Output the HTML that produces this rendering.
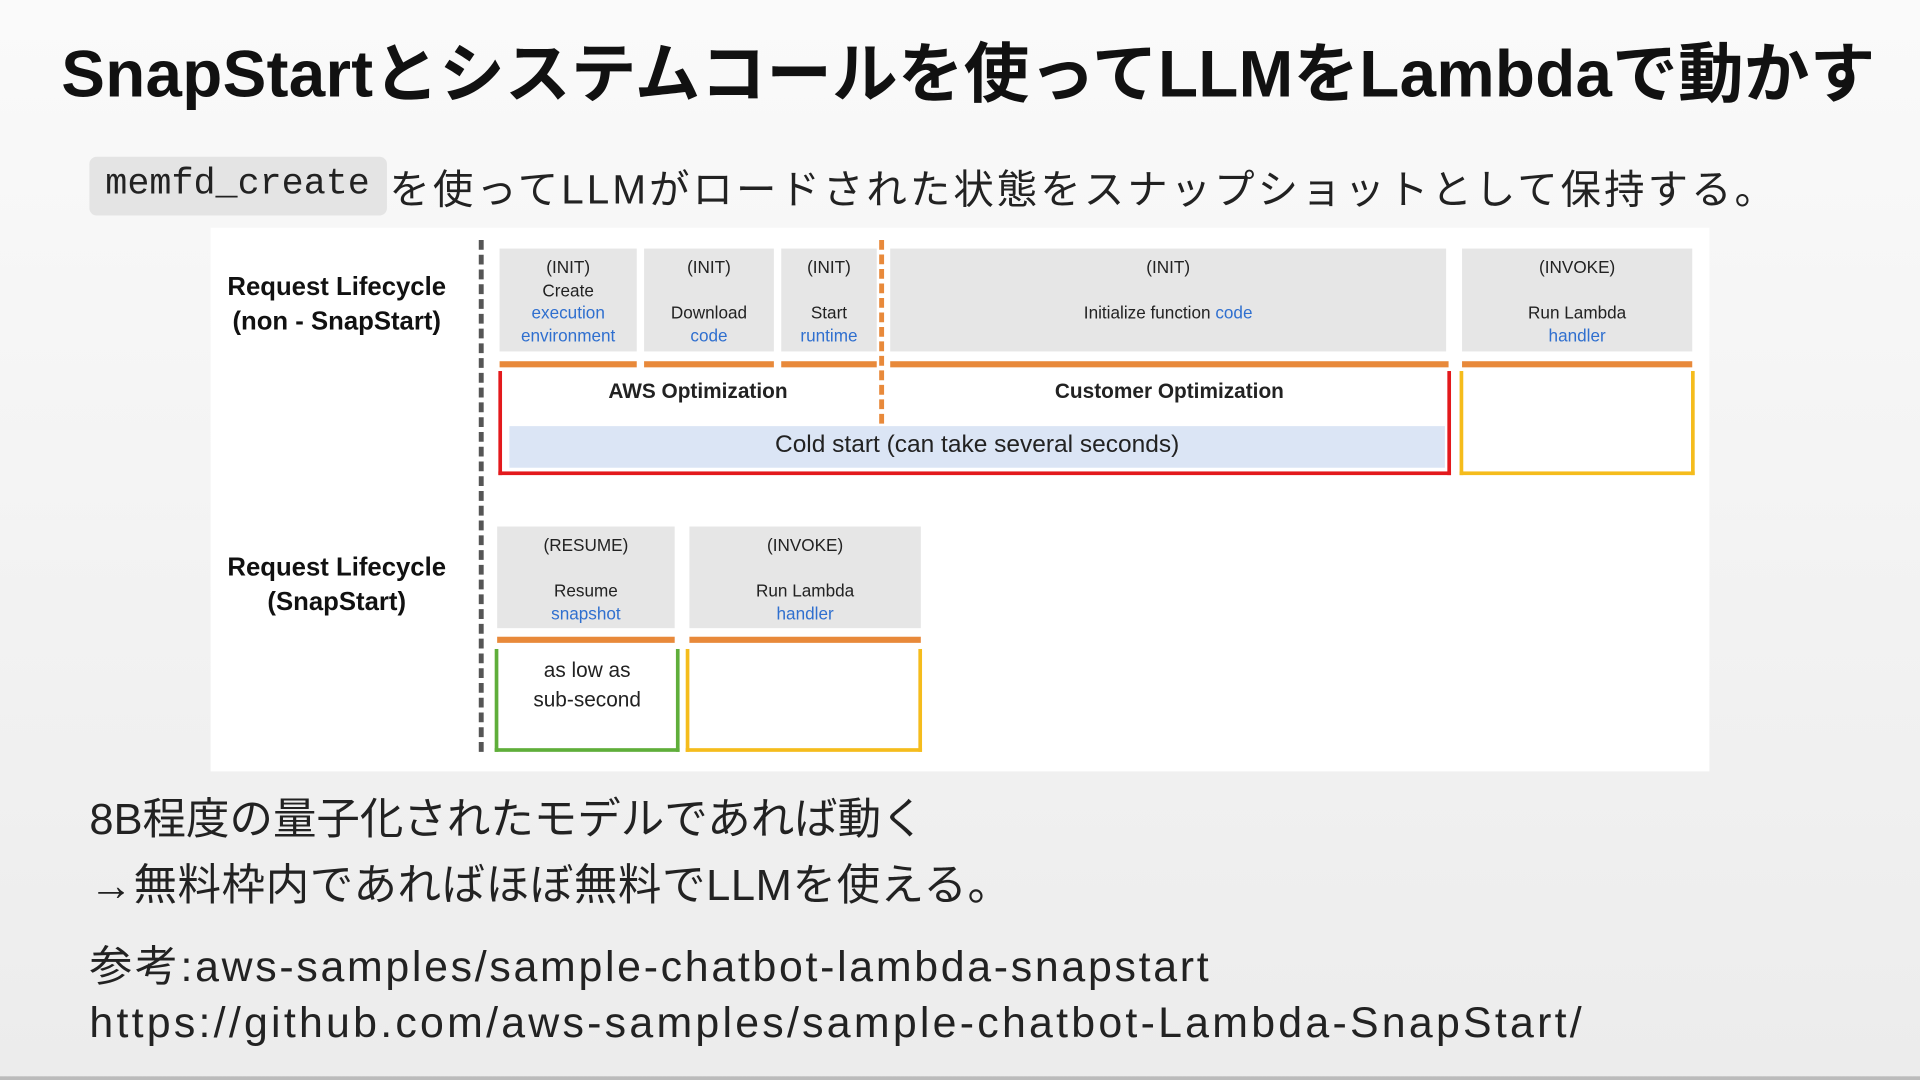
<!DOCTYPE html>
<html><head><meta charset="utf-8"><style>
html,body{margin:0;padding:0;width:1920px;height:1080px;overflow:hidden;}
body{background:linear-gradient(#fafafa,#ececec);}
#w{position:absolute;left:0;top:0;width:1568px;height:882px;transform:scale(1.22449);transform-origin:0 0;font-family:"Liberation Sans","Noto Sans CJK JP",sans-serif;color:#222;}
.a{position:absolute;}
.t{white-space:nowrap;}
.g{position:absolute;background:#e6e6e6;font-size:14px;text-align:center;color:#222;line-height:18.5px;}
.b{color:#2f6fcf;}
.o{position:absolute;background:#e8893a;height:5px;}
.lbl{position:absolute;font-weight:bold;font-size:21px;text-align:center;line-height:28px;color:#111;}
</style></head><body><div id="w">
<div class="a t" style="left:50px;top:18px;font-size:53.5px;font-weight:bold;color:#111;letter-spacing:0.25px;">SnapStartとシステムコールを使ってLLMをLambdaで動かす</div>
<div class="a" style="left:73px;top:128px;width:243px;height:48px;background:#e4e4e4;border-radius:6px;"></div>
<div class="a t" style="left:86px;top:134px;font-family:'Liberation Mono',monospace;font-size:30px;">memfd_create</div>
<div class="a t" style="left:318px;top:128px;font-size:33px;letter-spacing:2.5px;">を使ってLLMがロードされた状態をスナップショットとして保持する。</div>

<div class="a" style="left:172px;top:186px;width:1224px;height:444px;background:#fff;"></div>
<div class="lbl" style="left:172px;top:221px;width:206px;">Request Lifecycle<br>(non - SnapStart)</div>
<div class="lbl" style="left:172px;top:450px;width:206px;">Request Lifecycle<br>(SnapStart)</div>
<div class="a" style="left:391px;top:196px;width:0;height:418px;border-left:4px dashed #555;"></div>
<div class="a" style="left:718px;top:196px;width:0;height:150px;border-left:4px dashed #e8893a;"></div>

<div class="g" style="left:408px;top:203px;width:112px;height:84px;padding-top:6px;box-sizing:border-box;">(INIT)<br>Create<br><span class="b">execution<br>environment</span></div>
<div class="g" style="left:526px;top:203px;width:106px;height:84px;padding-top:6px;box-sizing:border-box;">(INIT)<br>&nbsp;<br>Download<br><span class="b">code</span></div>
<div class="g" style="left:638px;top:203px;width:78px;height:84px;padding-top:6px;box-sizing:border-box;">(INIT)<br>&nbsp;<br>Start<br><span class="b">runtime</span></div>
<div class="g" style="left:727px;top:203px;width:454px;height:84px;padding-top:6px;box-sizing:border-box;">(INIT)<br>&nbsp;<br>Initialize function <span class="b">code</span></div>
<div class="g" style="left:1194px;top:203px;width:188px;height:84px;padding-top:6px;box-sizing:border-box;">(INVOKE)<br>&nbsp;<br>Run Lambda<br><span class="b">handler</span></div>
<div class="o" style="left:408px;top:295px;width:112px;"></div>
<div class="o" style="left:526px;top:295px;width:106px;"></div>
<div class="o" style="left:638px;top:295px;width:78px;"></div>
<div class="o" style="left:727px;top:295px;width:456px;"></div>
<div class="o" style="left:1194px;top:295px;width:188px;"></div>

<div class="a" style="left:407px;top:303px;width:772px;height:82px;border:3px solid #e3191c;border-top:none;"></div>
<div class="a" style="left:416px;top:348px;width:764px;height:34px;background:#dbe5f5;"></div>
<div class="a t" style="left:416px;top:352px;width:764px;text-align:center;font-size:20px;">Cold start (can take several seconds)</div>
<div class="a t" style="left:420px;top:310px;width:300px;text-align:center;font-size:17px;font-weight:bold;">AWS Optimization</div>
<div class="a t" style="left:727px;top:310px;width:456px;text-align:center;font-size:17px;font-weight:bold;">Customer Optimization</div>
<div class="a" style="left:1192px;top:303px;width:186px;height:82px;border:3px solid #f5bc1c;border-top:none;"></div>

<div class="g" style="left:406px;top:430px;width:145px;height:83px;padding-top:6px;box-sizing:border-box;">(RESUME)<br>&nbsp;<br>Resume<br><span class="b">snapshot</span></div>
<div class="g" style="left:563px;top:430px;width:189px;height:83px;padding-top:6px;box-sizing:border-box;">(INVOKE)<br>&nbsp;<br>Run Lambda<br><span class="b">handler</span></div>
<div class="o" style="left:406px;top:520px;width:145px;"></div>
<div class="o" style="left:563px;top:520px;width:189px;"></div>
<div class="a" style="left:404px;top:530px;width:145px;height:81px;border:3px solid #5fae3a;border-top:none;"></div>
<div class="a" style="left:404px;top:536px;width:151px;text-align:center;font-size:17px;line-height:24px;">as low as<br>sub-second</div>
<div class="a" style="left:560px;top:530px;width:187px;height:81px;border:3px solid #f5bc1c;border-top:none;"></div>

<div class="a t" style="left:73px;top:641px;font-size:35.5px;">8B程度の量子化されたモデルであれば動く</div>
<div class="a t" style="left:73px;top:695px;font-size:35.5px;letter-spacing:0.5px;">→無料枠内であればほぼ無料でLLMを使える。</div>
<div class="a t" style="left:73px;top:761px;font-size:35px;letter-spacing:2.2px;">参考:aws-samples/sample-chatbot-lambda-snapstart</div>
<div class="a t" style="left:73px;top:816px;font-size:35px;letter-spacing:2.65px;">https://github.com/aws-samples/sample-chatbot-Lambda-SnapStart/</div>
<div class="a" style="left:0;top:879px;width:1568px;height:3px;background:#bbb;"></div>
</div></body></html>
